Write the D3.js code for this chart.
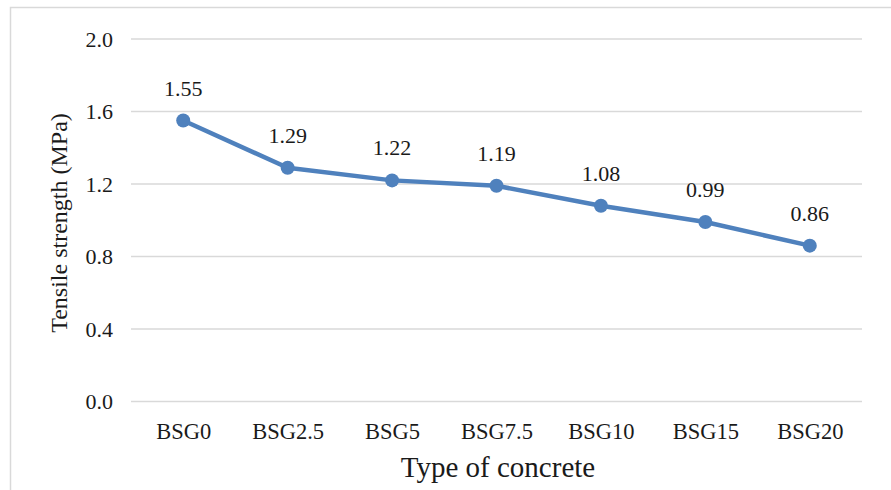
<!DOCTYPE html>
<html>
<head>
<meta charset="utf-8">
<script src="https://cdn.jsdelivr.net/npm/d3@7/dist/d3.min.js"></script>
<style>
  html, body { margin: 0; padding: 0; background: #fff; }
</style>
</head>
<body>
<svg id="chart" width="891" height="490"></svg>
<script>
// Splitting tensile strength by concrete mix
const categories = ["BSG0", "BSG2.5", "BSG5", "BSG7.5", "BSG10", "BSG15", "BSG20"];
const strength = [1.55, 1.29, 1.22, 1.19, 1.08, 0.99, 0.86];
const yTicks = [0.0, 0.4, 0.8, 1.2, 1.6, 2.0];

const svg = d3.select("#chart");
const W = 891, H = 490;
const plot = { left: 131, right: 862, top: 39, bottom: 401.5 };
const blue = "#4f81bd";
const ink = "#1a1a1a";
const serif = '"Liberation Serif", "Times New Roman", serif';

// outer chart frame
svg.append("rect")
  .attr("x", 10.5).attr("y", 7.5)
  .attr("width", W + 10).attr("height", H + 10)
  .attr("fill", "#fff").attr("stroke", "#d9d9d9").attr("stroke-width", 1.5);

const x = d3.scalePoint().domain(categories)
  .range([plot.left, plot.right]).padding(0.5);
const y = d3.scaleLinear().domain([0, 2]).range([plot.bottom, plot.top]);

// horizontal gridlines
svg.append("g")
  .selectAll("line").data(yTicks).join("line")
  .attr("x1", plot.left).attr("x2", plot.right)
  .attr("y1", d => y(d)).attr("y2", d => y(d))
  .attr("stroke", "#d9d9d9").attr("stroke-width", 1.5);

// y axis tick labels
const yAxis = d3.axisLeft(y).tickValues(yTicks).tickFormat(d3.format(".1f")).tickSize(0).tickPadding(18);
const gy = svg.append("g").attr("transform", `translate(${plot.left},0)`).call(yAxis);
gy.select(".domain").remove();
gy.selectAll("text").style("font-family", serif).attr("font-size", 22).attr("fill", ink);

// x axis category labels
const xAxis = d3.axisBottom(x).tickSize(0).tickPadding(22);
const gx = svg.append("g").attr("transform", `translate(0,${plot.bottom})`).call(xAxis);
gx.select(".domain").remove();
gx.selectAll("text").style("font-family", serif).attr("font-size", 22.5).attr("fill", ink);

// axis titles
svg.append("text")
  .attr("x", 498).attr("y", 477)
  .attr("text-anchor", "middle").attr("font-size", 29).attr("fill", ink)
  .style("font-family", serif)
  .text("Type of concrete");

svg.append("text")
  .attr("transform", `translate(67,223) rotate(-90)`)
  .attr("text-anchor", "middle").attr("font-size", 24).attr("fill", ink)
  .style("font-family", serif)
  .text("Tensile strength (MPa)");

// series line
const line = d3.line().x((d, i) => x(categories[i])).y(d => y(d));
svg.append("path").datum(strength)
  .attr("d", line).attr("fill", "none")
  .attr("stroke", blue).attr("stroke-width", 4.5).attr("stroke-linejoin", "round");

// markers
svg.append("g").selectAll("circle").data(strength).join("circle")
  .attr("cx", (d, i) => x(categories[i])).attr("cy", d => y(d))
  .attr("r", 7).attr("fill", blue);

// value labels
svg.append("g").selectAll("text").data(strength).join("text")
  .attr("x", (d, i) => x(categories[i])).attr("y", d => y(d) - 25)
  .attr("text-anchor", "middle").attr("font-size", 22).attr("fill", ink)
  .style("font-family", serif)
  .text(d => d.toFixed(2));
</script>
</body>
</html>
